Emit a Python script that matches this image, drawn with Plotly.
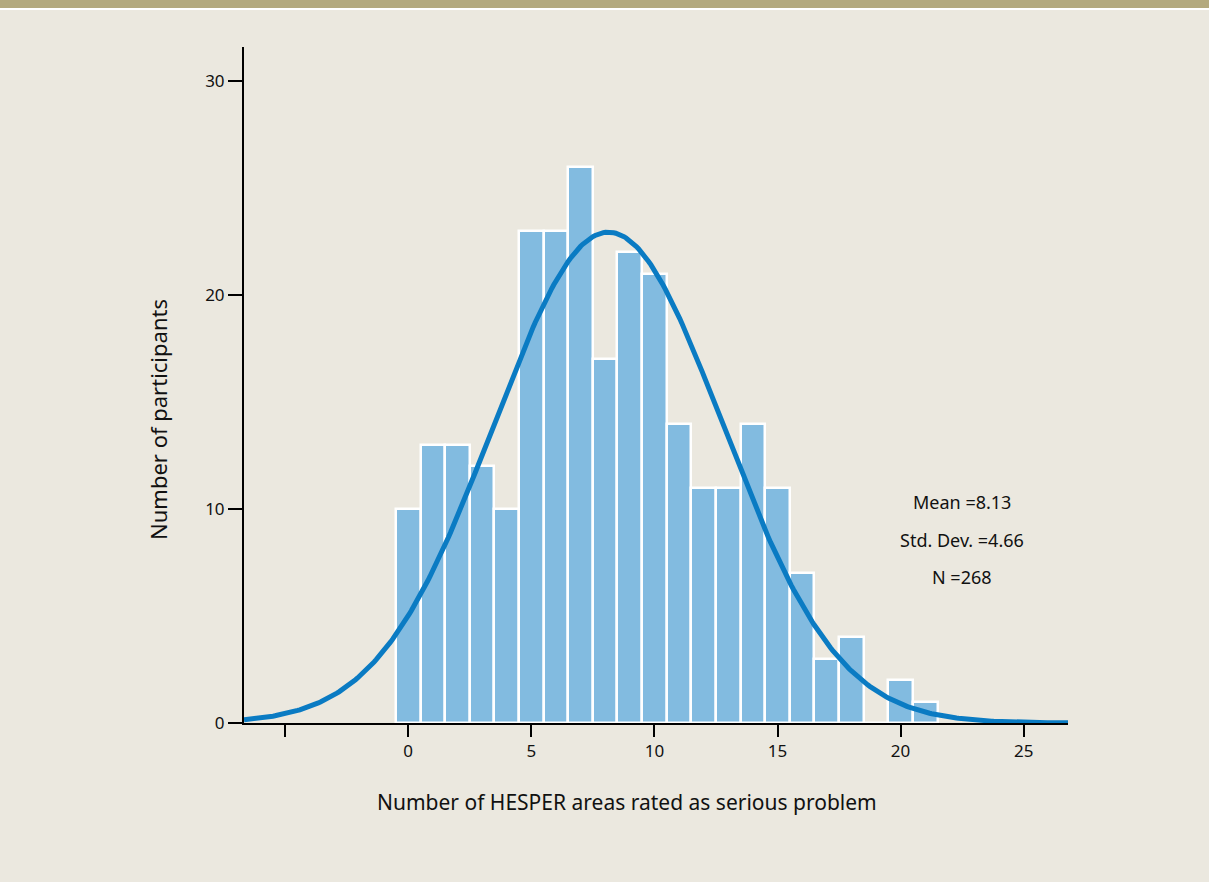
import numpy as np
import plotly.graph_objects as go

# Histogram data: number of HESPER areas rated as serious problem
categories = list(range(0, 22))
counts = [10, 13, 13, 12, 10, 23, 23, 26, 17, 22, 21, 14, 11, 11, 14, 11, 7, 3, 4, 0, 2, 1]

# Summary statistics shown on the chart
MEAN = 8.13
STD_DEV = 4.66
N = 268

x_tick_vals = [-5, 0, 5, 10, 15, 20, 25]
x_tick_text = ["", "0", "5", "10", "15", "20", "25"]
y_tick_vals = [0, 10, 20, 30]
y_tick_text = ["0", "10", "20", "30"]

X_MIN, X_MAX = -6.67, 26.8

# Fitted normal curve from the chart's own mean / SD / N (bin width 1)
curve_x = np.linspace(X_MIN, X_MAX, 400)
curve_y = N * 1.0 / (STD_DEV * np.sqrt(2 * np.pi)) * np.exp(-0.5 * ((curve_x - MEAN) / STD_DEV) ** 2)

FONT = "Noto Sans"
PW, PH = 824, 676  # plot area size in px

fig = go.Figure()
fig.add_trace(go.Bar(
    x=categories, y=counts, width=1.0,
    marker=dict(color="#82bbe0", line=dict(color="white", width=2.5)),
    hoverinfo="x+y",
))
fig.add_trace(go.Scatter(
    x=curve_x, y=curve_y, mode="lines",
    line=dict(color="#0a7bc3", width=5),
    hoverinfo="skip",
))

fig.update_layout(
    width=1209, height=882,
    margin=dict(l=244, r=141, t=47, b=159),
    paper_bgcolor="#ebe8df",
    plot_bgcolor="#ebe8df",
    showlegend=False,
    bargap=0,
    font=dict(family=FONT, size=17, color="#111111"),
    xaxis=dict(
        range=[X_MIN, X_MAX], tickvals=x_tick_vals, ticktext=x_tick_text,
        showgrid=False, zeroline=False, showline=True, linecolor="black", linewidth=2,
        ticks="outside", ticklen=12, tickwidth=2, tickcolor="black",
        tickfont=dict(size=17, family=FONT), layer="below traces",
    ),
    yaxis=dict(
        range=[0, 31.6], tickvals=y_tick_vals, ticktext=y_tick_text,
        showgrid=False, zeroline=False, showline=True, linecolor="black", linewidth=2,
        ticks="outside", ticklen=14, tickwidth=2, tickcolor="black",
        tickfont=dict(size=17, family=FONT), layer="below traces",
    ),
    shapes=[
        dict(type="rect", xref="paper", yref="paper", x0=-260/PW, x1=1 + 160/PW, y0=1 + 39/PH, y1=1 + 50/PH,
             fillcolor="#b3a97e", line=dict(width=0), layer="below"),
        dict(type="rect", xref="paper", yref="paper", x0=-260/PW, x1=1 + 160/PW, y0=1 + 37/PH, y1=1 + 39/PH,
             fillcolor="#ffffff", line=dict(width=0), layer="below"),
    ],
    annotations=[
        dict(text="Number of participants", xref="paper", yref="paper", x=-86/PW, y=(723-420)/PH,
             xanchor="center", yanchor="middle",
             textangle=-90, showarrow=False, font=dict(size=22, family=FONT)),
        dict(text="Number of HESPER areas rated as serious problem", xref="paper", yref="paper",
             x=(627-244)/PW, y=-(802-723)/PH, xanchor="center", yanchor="middle",
             showarrow=False, font=dict(size=21, family=FONT)),
        dict(text="Mean =%.2f" % MEAN, xref="paper", yref="paper", x=(962-244)/PW, y=(723-502)/PH,
             xanchor="center", yanchor="middle", showarrow=False, font=dict(size=18, family=FONT)),
        dict(text="Std. Dev. =%.2f" % STD_DEV, xref="paper", yref="paper", x=(962-244)/PW, y=(723-540)/PH,
             xanchor="center", yanchor="middle", showarrow=False, font=dict(size=18, family=FONT)),
        dict(text="N =%d" % N, xref="paper", yref="paper", x=(962-244)/PW, y=(723-577)/PH,
             xanchor="center", yanchor="middle", showarrow=False, font=dict(size=18, family=FONT)),
    ],
)

fig.write_html("out.html", config={"displayModeBar": False},
               post_script="document.body.style.margin='0';document.body.style.overflow='hidden';")
